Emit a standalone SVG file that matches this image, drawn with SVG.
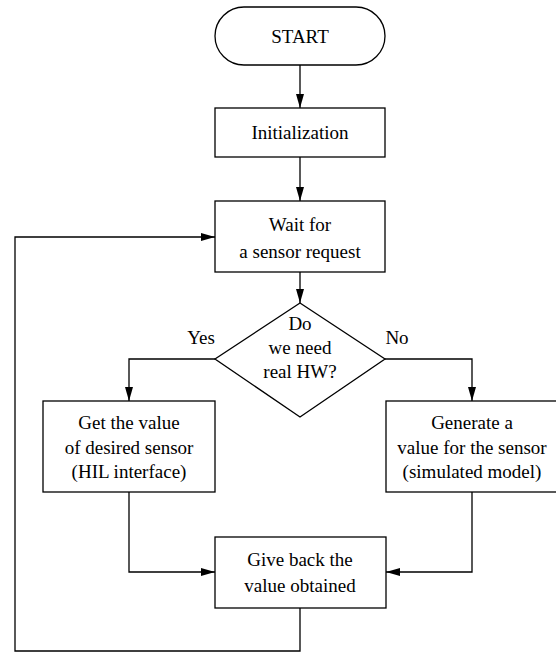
<svg xmlns="http://www.w3.org/2000/svg" width="556" height="652" viewBox="0 0 556 652" font-family="'Liberation Serif', 'Times New Roman', 'DejaVu Serif', serif">
  <style>
    .shape { fill: #ffffff; stroke: #000000; stroke-width: 1.3; }
    .wire { fill: none; stroke: #000000; stroke-width: 1.3; }
    .label { font-family: 'Liberation Serif', 'Times New Roman', 'DejaVu Serif', serif; font-size: 19px; fill: #000000; text-anchor: middle; }
  </style>
  <defs>
    <marker id="arrow" viewBox="0 0 14 8" refX="14" refY="4" markerWidth="14" markerHeight="8" markerUnits="userSpaceOnUse" orient="auto">
      <path d="M0,0 L14,4 L0,8 Z" fill="#000000"/>
    </marker>
  </defs>
  <rect width="556" height="652" fill="#ffffff"/>

  <g id="connectors">
    <path class="wire" d="M300,65 V108" marker-end="url(#arrow)"/>
    <path class="wire" d="M300,157 V201" marker-end="url(#arrow)"/>
    <path class="wire" d="M300,272 V303" marker-end="url(#arrow)"/>
    <path class="wire" d="M215,359 H129 V401" marker-end="url(#arrow)"/>
    <path class="wire" d="M385,359 H472 V401" marker-end="url(#arrow)"/>
    <path class="wire" d="M129,492 V572 H215" marker-end="url(#arrow)"/>
    <path class="wire" d="M472,492 V572 H386" marker-end="url(#arrow)"/>
    <path class="wire" d="M300,608 V651 H15 V237 H215" marker-end="url(#arrow)"/>
    <text class="label" x="201" y="344">Yes</text>
    <text class="label" x="397" y="344">No</text>
  </g>

  <g id="start">
    <rect class="shape" x="215" y="7" width="170" height="58" rx="29" ry="29"/>
    <text class="label" x="300" y="43">START</text>
  </g>

  <g id="init">
    <rect class="shape" x="215" y="108" width="170" height="49"/>
    <text class="label" x="300" y="139">Initialization</text>
  </g>

  <g id="wait">
    <rect class="shape" x="215" y="201" width="170" height="71"/>
    <text class="label" x="300" y="231">Wait for</text>
    <text class="label" x="300" y="258">a sensor request</text>
  </g>

  <g id="decision">
    <polygon class="shape" points="300,303 385,359 300,417 215,359"/>
    <text class="label" x="300" y="330">Do</text>
    <text class="label" x="300" y="354">we need</text>
    <text class="label" x="300" y="378">real HW?</text>
  </g>

  <g id="hil">
    <rect class="shape" x="43" y="401" width="172" height="91"/>
    <text class="label" x="129" y="429">Get the value</text>
    <text class="label" x="129" y="454">of desired sensor</text>
    <text class="label" x="129" y="478">(HIL interface)</text>
  </g>

  <g id="simulate">
    <rect class="shape" x="386" y="401" width="172" height="91"/>
    <text class="label" x="472" y="429">Generate a</text>
    <text class="label" x="472" y="454">value for the sensor</text>
    <text class="label" x="472" y="478">(simulated model)</text>
  </g>

  <g id="giveback">
    <rect class="shape" x="215" y="537" width="171" height="71"/>
    <text class="label" x="300" y="566">Give back the</text>
    <text class="label" x="300" y="592">value obtained</text>
  </g>
</svg>
